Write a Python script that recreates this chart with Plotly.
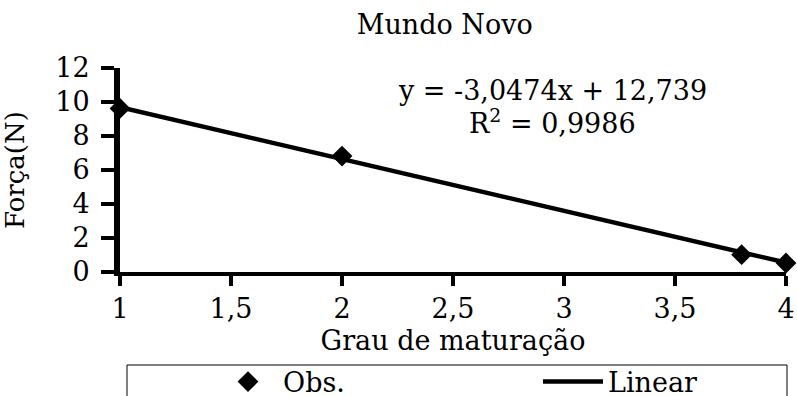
import plotly.graph_objects as go

# Observed force at each maturation grade
grau = [1, 2, 3.8, 4]
forca = [9.62, 6.82, 1.02, 0.53]

# Fitted linear regression
slope = -3.0474
intercept = 12.739
r2 = 0.9986

x_ticks = [1, 1.5, 2, 2.5, 3, 3.5, 4]
x_tick_text = ["1", "1,5", "2", "2,5", "3", "3,5", "4"]
y_ticks = [0, 2, 4, 6, 8, 10, 12]

FONT = "DejaVu Serif"
FS = 27

fit_x = [min(grau), max(grau)]
fit_y = [slope * v + intercept for v in fit_x]

fig = go.Figure()
fig.add_trace(go.Scatter(
    x=grau, y=forca, mode="markers", name="Obs.",
    marker=dict(symbol="diamond", size=16, color="black"),
    cliponaxis=False, legend="legend", showlegend=True,
))
fig.add_trace(go.Scatter(
    x=fit_x, y=fit_y, mode="lines", name="Linear",
    line=dict(color="black", width=4.5), cliponaxis=False, legend="legend2",
    showlegend=True,
))

def fmt(v, nd):
    return f"{v:.{nd}f}".replace(".", ",")

eq_text = f"y = {fmt(slope, 4)}x + {fmt(intercept, 3)}"
r2_text = f"R<sup>2</sup> = {fmt(r2, 4)}"

font = dict(family=FONT, size=FS, color="black")

fig.update_layout(
    width=797, height=396,
    showlegend=True,
    margin=dict(l=120, r=11, t=68, b=124, autoexpand=False),
    paper_bgcolor="white", plot_bgcolor="white",
    font=font,
    title=dict(text="Mundo Novo", x=0.558, xref="container", xanchor="center",
               y=1 - 25 / 396, yref="container", yanchor="middle", font=font),
    xaxis=dict(
        range=[1, 4], tickvals=x_ticks, ticktext=x_tick_text,
        showgrid=False, zeroline=False, showline=True, automargin=False,
        linecolor="black", linewidth=4,
        ticks="outside", ticklen=10, tickwidth=4, tickcolor="black",
        ticklabelstandoff=0, tickfont=font,
        title=dict(text="Grau de maturação", standoff=9, font=font),
    ),
    yaxis=dict(
        range=[0, 12], tickvals=y_ticks,
        showgrid=False, zeroline=False, showline=True, automargin=False,
        linecolor="black", linewidth=6,
        ticks="outside", ticklen=13, tickwidth=4, tickcolor="black",
        ticklabelstandoff=6, tickfont=font,
        title=dict(text="Força(N)", standoff=34,
                   font=dict(family=FONT, size=26, color="black")),
    ),
    legend=dict(x=(213 - 120) / 666, xanchor="left", y=-110 / 204, yanchor="middle",
                itemwidth=60, bgcolor="rgba(0,0,0,0)", borderwidth=0, font=font),
    legend2=dict(x=(538 - 120) / 666, xanchor="left", y=-110 / 204, yanchor="middle",
                 itemwidth=60, bgcolor="rgba(0,0,0,0)", borderwidth=0, font=font),
    shapes=[dict(type="rect", xref="paper", yref="paper",
                 x0=7 / 666, x1=667 / 666, y0=(272 - 365) / 204, y1=(272 - 420) / 204,
                 line=dict(color="black", width=1), fillcolor="rgba(0,0,0,0)")],
    annotations=[
        dict(text=eq_text, x=2.946, y=10.65, xref="x", yref="y",
             showarrow=False, xanchor="center", yanchor="middle"),
        dict(text=r2_text, x=2.946, y=8.85, xref="x", yref="y",
             showarrow=False, xanchor="center", yanchor="middle"),
    ],
)

fig.write_html("out.html")
